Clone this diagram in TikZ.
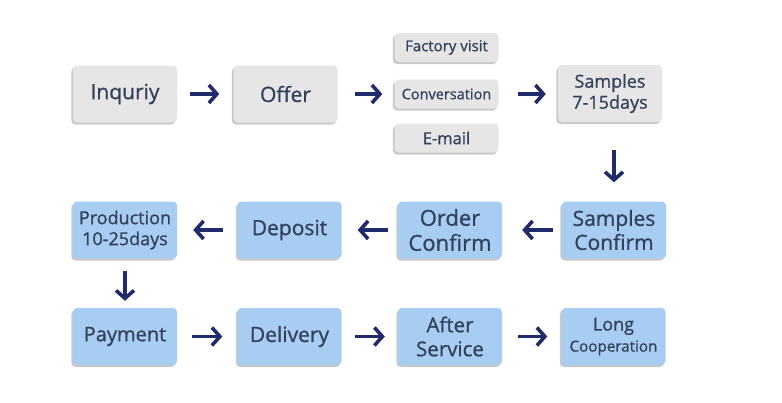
\documentclass[tikz,border=0pt]{standalone}
\usepackage{fontspec}
\setmainfont{Open Sans}[FakeBold=0.9]
\usetikzlibrary{arrows.meta,shadows}
\definecolor{boxgrey}{HTML}{E6E6E6}
\definecolor{boxblue}{HTML}{A8CDF3}
\definecolor{txt}{HTML}{33405E}
\definecolor{arrc}{HTML}{1F2B6B}
\tikzset{
  card/.style={rounded corners=4pt, minimum width=104pt, minimum height=57pt, inner sep=0pt,
    align=center, text=txt,
    drop shadow={shadow xshift=-1.6pt, shadow yshift=-2pt, opacity=0.35, fill=black!60}},
  greycard/.style={card, fill=boxgrey},
  bluecard/.style={card, fill=boxblue},
  smallcard/.style={greycard, minimum height=29pt},
  arr/.style={draw=arrc, line width=3.6pt, -{Straight Barb[length=8pt,width=18pt]}},
  fs/.style={font=\fontsize{#1}{#1*1.15}\selectfont}
}
\begin{document}
\begin{tikzpicture}[x=1pt,y=-1pt]
\useasboundingbox[fill=white] (0,0) rectangle (782,402);
% row 1
\node[greycard,font=\fontsize{21}{24}\selectfont] (inq) at (125,94) {Inquriy};
\node[greycard,font=\fontsize{21}{24}\selectfont] (off) at (285.5,94) {Offer};
\node[smallcard,font=\fontsize{15}{17}\selectfont] (fac) at (446.5,47.5) {Factory visit};
\node[smallcard,font=\fontsize{14.5}{17}\selectfont] (conv) at (446.5,94) {Conversation};
\node[smallcard,font=\fontsize{16.5}{18}\selectfont] (mail) at (446.5,138) {E-mail};
\node[greycard,font=\fontsize{18}{21}\selectfont] (samp) at (610,93.5) {Samples\\7-15days};
% row 2
\node[bluecard,font=\fontsize{18}{21}\selectfont] (prod) at (125,230) {Production\\10-25days};
\node[bluecard,font=\fontsize{21}{24}\selectfont] (dep) at (289.5,230) {Deposit};
\node[bluecard,font=\fontsize{22}{25}\selectfont] (ord) at (450,230) {Order\\Confirm};
\node[bluecard,font=\fontsize{21}{24}\selectfont] (sconf) at (614,230) {Samples\\Confirm};
% row 3
\node[bluecard,font=\fontsize{20}{23}\selectfont] (pay) at (125,336.5) {Payment};
\node[bluecard,font=\fontsize{21}{24}\selectfont] (del) at (289.5,336.5) {Delivery};
\node[bluecard,font=\fontsize{20.5}{24}\selectfont] (aft) at (450,336.5) {After\\Service};
\node[bluecard,font=\fontsize{18}{21}\selectfont] (long) at (613.5,336.5) {Long\\{\fontsize{15.2}{17}\selectfont Cooperation}};
% arrows
\draw[arr, shorten <=13pt, shorten >=14pt] (inq) -- (off);
\draw[arr, shorten <=17pt, shorten >=12pt] (off) -- (conv);
\draw[arr, shorten <=19pt, shorten >=12pt] (conv) -- (samp.west |- conv);
\draw[arr, shorten <=28pt, shorten >=19pt] (samp.south -| sconf) -- (sconf.north);
\draw[arr, shorten <=9pt, shorten >=20pt] (sconf) -- (ord);
\draw[arr, shorten <=10pt, shorten >=16pt] (ord) -- (dep);
\draw[arr, shorten <=14pt, shorten >=16pt] (dep) -- (prod);
\draw[arr, shorten <=12pt, shorten >=7pt] (prod) -- (pay);
\draw[arr, shorten <=15pt, shorten >=15pt] (pay) -- (del);
\draw[arr, shorten <=13pt, shorten >=13pt] (del) -- (aft);
\draw[arr, shorten <=16pt, shorten >=14pt] (aft) -- (long);
\end{tikzpicture}
\end{document}
